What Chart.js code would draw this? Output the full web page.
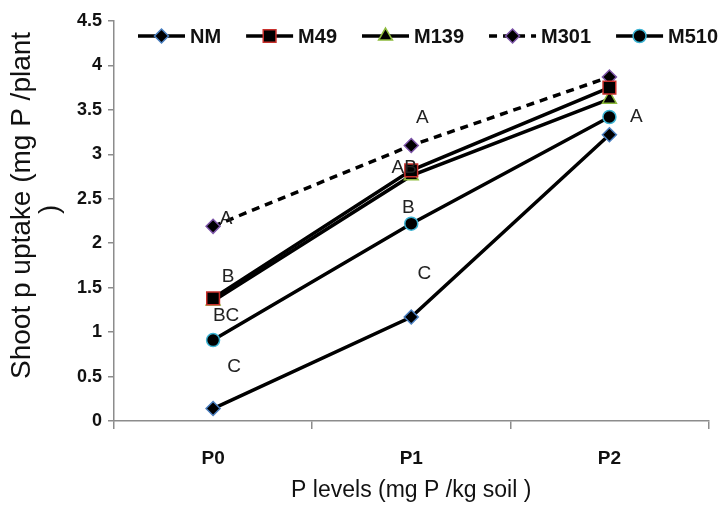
<!DOCTYPE html>
<html>
<head>
<meta charset="utf-8">
<script src="https://cdn.jsdelivr.net/npm/chart.js@4/dist/chart.umd.min.js"></script>
<style>
html,body{margin:0;padding:0;background:#fff}
</style>
</head>
<body>
<canvas id="chartuptake" width="719" height="510"></canvas>
<script>
// P levels on the x axis
const levels = ['P0', 'P1', 'P2'];
// shoot P uptake (mg P / plant) per treatment
const nm   = [0.14, 1.17, 3.22];
const m49  = [1.38, 2.82, 3.75];
const m139 = [1.35, 2.76, 3.62];
const m301 = [2.19, 3.10, 3.87];
const m510 = [0.91, 2.22, 3.42];

// significance letters: text, category index, y value
const letterText = ['A', 'B', 'BC', 'C', 'A', 'AB', 'B', 'C', 'A'];
const letterCat  = [0, 0, 0, 0, 1, 1, 1, 1, 2];
const letterVal  = [2.28, 1.62, 1.18, 0.61, 3.41, 2.85, 2.40, 1.66, 3.42];
const letterDx   = [13, 15, 13, 21, 11, -7, -3, 13, 27];

const FONT = '"Liberation Sans", Arial, sans-serif';
const axisGrey = '#8c8c8c';

function series(label, data, style, radius, border, dash) {
    return {
        label: label,
        data: data,
        borderColor: '#000',
        borderWidth: 3.5,
        borderDash: dash || [],
        pointStyle: style,
        pointRadius: radius,
        pointHoverRadius: radius,
        pointBackgroundColor: '#000',
        pointBorderColor: border,
        pointBorderWidth: 1.5,
        tension: 0
    };
}

const topLegend = {
    id: 'topLegend',
    afterDatasetsDraw(chart) {
        const ctx = chart.ctx;
        let x = 138;
        const y = 36;
        ctx.save();
        ctx.font = 'bold 20px ' + FONT;
        ctx.textBaseline = 'middle';
        chart.data.datasets.forEach(ds => {
            ctx.save();
            ctx.strokeStyle = ds.borderColor;
            ctx.lineWidth = ds.borderWidth;
            ctx.setLineDash(ds.borderDash);
            ctx.beginPath();
            ctx.moveTo(x, y);
            ctx.lineTo(x + 47, y);
            ctx.stroke();
            ctx.restore();

            ctx.save();
            ctx.fillStyle = ds.pointBackgroundColor;
            ctx.strokeStyle = ds.pointBorderColor;
            ctx.lineWidth = ds.pointBorderWidth;
            Chart.helpers.drawPoint(ctx, {
                pointStyle: ds.pointStyle,
                radius: ds.pointRadius,
                borderWidth: ds.pointBorderWidth,
                rotation: 0
            }, x + 23.5, y);
            ctx.restore();

            ctx.fillStyle = '#111';
            ctx.textAlign = 'left';
            ctx.fillText(ds.label, x + 52, y + 1);
            x += 52 + ctx.measureText(ds.label).width + 25;
        });
        ctx.restore();
    }
};

const letters = {
    id: 'letters',
    afterDatasetsDraw(chart) {
        const ctx = chart.ctx;
        const xs = chart.scales.x, ys = chart.scales.y;
        ctx.save();
        ctx.font = '19px ' + FONT;
        ctx.fillStyle = '#222';
        ctx.textAlign = 'center';
        ctx.textBaseline = 'middle';
        letterText.forEach((t, i) => {
            ctx.fillText(t, xs.getPixelForValue(letterCat[i]) + letterDx[i], ys.getPixelForValue(letterVal[i]));
        });
        ctx.restore();
    }
};

const mychart = new Chart(document.getElementById('chartuptake'), {
    type: 'line',
    data: {
        labels: levels,
        datasets: [
            series('NM', nm, 'rectRot', 7, '#4a7fc0'),
            series('M49', m49, 'rect', 9, '#c8302c'),
            series('M139', m139, 'triangle', 8, '#8dbb3c'),
            series('M301', m301, 'rectRot', 7, '#7d55a8', [8, 6]),
            series('M510', m510, 'circle', 6.5, '#3bb3d3')
        ]
    },
    options: {
        responsive: false,
        animation: false,
        layout: { padding: { top: 21, right: 6, left: 0, bottom: 0 } },
        plugins: {
            legend: { display: false },
            tooltip: { enabled: false }
        },
        scales: {
            x: {
                offset: true,
                grid: { offset: true, drawOnChartArea: false, tickLength: 8, color: axisGrey, lineWidth: 1.5 },
                border: { color: axisGrey, width: 1.5 },
                ticks: { color: '#111', padding: 18, font: { family: FONT, size: 19, weight: 'bold' } },
                title: {
                    display: true,
                    text: 'P levels (mg P /kg soil )',
                    color: '#111',
                    font: { family: FONT, size: 23, lineHeight: 1 },
                    padding: { top: 0, bottom: 8 }
                },
                afterFit(s) { s.height = 89; }
            },
            y: {
                min: 0,
                max: 4.5,
                grid: { drawOnChartArea: false, tickLength: 6, color: axisGrey, lineWidth: 1.5 },
                border: { color: axisGrey, width: 1.5 },
                ticks: {
                    stepSize: 0.5,
                    padding: 6,
                    color: '#111',
                    font: { family: FONT, size: 18, weight: 'bold' },
                    callback: v => String(v)
                },
                title: {
                    display: true,
                    text: ['    Shoot p uptake (mg P /plant', '   )'],
                    color: '#111',
                    font: { family: FONT, size: 28, lineHeight: 0.98 },
                    padding: { top: 9, bottom: 0 }
                },
                afterFit(s) { s.width = 114; }
            }
        }
    },
    plugins: [topLegend, letters]
});
</script>
</body>
</html>
